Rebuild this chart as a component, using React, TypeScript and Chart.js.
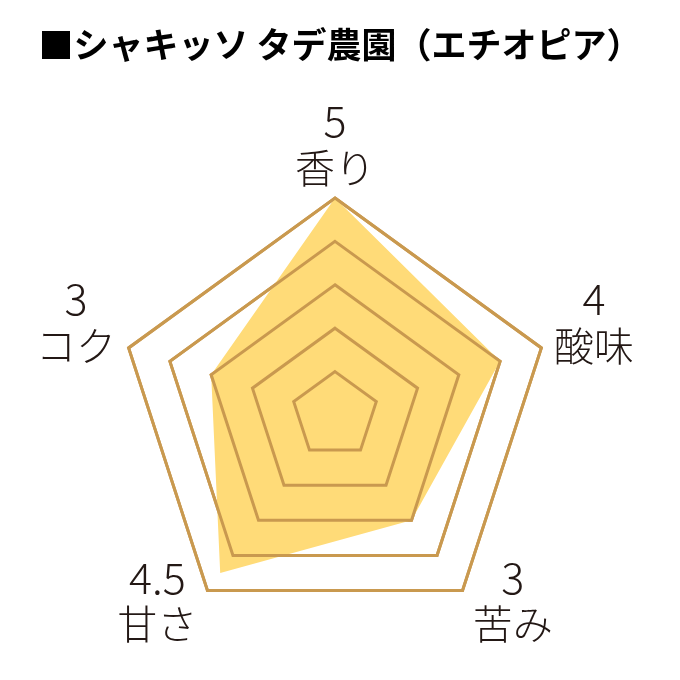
import React, { useEffect, useRef } from "react";
import { Chart, registerables } from "chart.js";

Chart.register(...registerables);

// ---- data ----
const TITLE = "■シャキッソ タデ農園（エチオピア）";
const CATEGORIES = ["香り", "酸味", "苦み", "甘さ", "コク"];
const SCORES = [5, 4, 3, 4.5, 3];
const SCALE_MIN = 0;
const SCALE_MAX = 5;
const SCALE_STEP = 1;

// ---- style ----
const FONT = '"Noto Sans CJK JP", "Noto Sans", sans-serif';
const TEXT_COLOR = "#231815";
const GRID_COLOR = "#C9994F";
const FILL_COLOR = "#FFDB78";
const LINE_H = 47;

const gridOverlay = {
  id: "gridOverlay",
  afterDatasetsDraw(chart: any) {
    const s = chart.scales.r;
    if (s && typeof s.drawGrid === "function") s.drawGrid();
  },
};

const titleText = {
  id: "titleText",
  afterDraw(chart: any) {
    const ctx = chart.ctx;
    ctx.save();
    ctx.fillStyle = "#000000";
    ctx.font = `bold 35px ${FONT}`;
    ctx.textAlign = "center";
    ctx.textBaseline = "middle";
    ctx.fillText(TITLE, chart.width / 2, 45);
    ctx.restore();
  },
};

const valueNameLabels = {
  id: "valueNameLabels",
  afterDraw(chart: any) {
    const s = chart.scales.r;
    const ctx = chart.ctx;
    ctx.save();
    ctx.fillStyle = TEXT_COLOR;
    ctx.textAlign = "center";
    ctx.textBaseline = "middle";
    CATEGORIES.forEach((name, i) => {
      const p = s.getPointPosition(i, s.drawingArea + 7);
      const dx = p.x - s.xCenter;
      const dy = p.y - s.yCenter;
      let cx = p.x;
      let nameY: number;
      if (Math.abs(dx) < 1) {
        nameY = p.y - LINE_H / 2;
      } else {
        cx = p.x + Math.sign(dx) * 46;
        nameY = dy < 0 ? p.y : p.y + 28;
      }
      ctx.font = `300 43px ${FONT}`;
      ctx.fillText(String(SCORES[i]), cx, nameY - LINE_H);
      ctx.font = `300 40px ${FONT}`;
      ctx.fillText(name, cx, nameY);
    });
    ctx.restore();
  },
};

export default function App() {
  const ref = useRef<HTMLCanvasElement | null>(null);

  useEffect(() => {
    if (!ref.current) return;
    const chart = new Chart(ref.current, {
      type: "radar",
      data: {
        labels: CATEGORIES,
        datasets: [
          {
            data: SCORES,
            backgroundColor: FILL_COLOR,
            borderWidth: 0,
            pointRadius: 0,
            pointHoverRadius: 0,
            fill: true,
          },
        ],
      },
      options: {
        animation: false,
        responsive: false,
        devicePixelRatio: 1,
        layout: { padding: { left: 0, right: 10, top: 198, bottom: 48 } },
        plugins: {
          legend: { display: false },
          tooltip: { enabled: false },
          title: { display: false },
        },
        scales: {
          r: {
            min: SCALE_MIN,
            max: SCALE_MAX,
            ticks: { display: false, stepSize: SCALE_STEP },
            angleLines: { display: false },
            grid: { color: GRID_COLOR, lineWidth: 3 },
            pointLabels: { display: false },
          },
        },
      },
      plugins: [gridOverlay, valueNameLabels, titleText],
    } as any);
    return () => chart.destroy();
  }, []);

  return (
    <div style={{ position: "absolute", left: 0, top: 0, width: 680, height: 680, background: "#fff" }}>
      <canvas ref={ref} width={680} height={680} style={{ width: 680, height: 680, display: "block" }} />
    </div>
  );
}
